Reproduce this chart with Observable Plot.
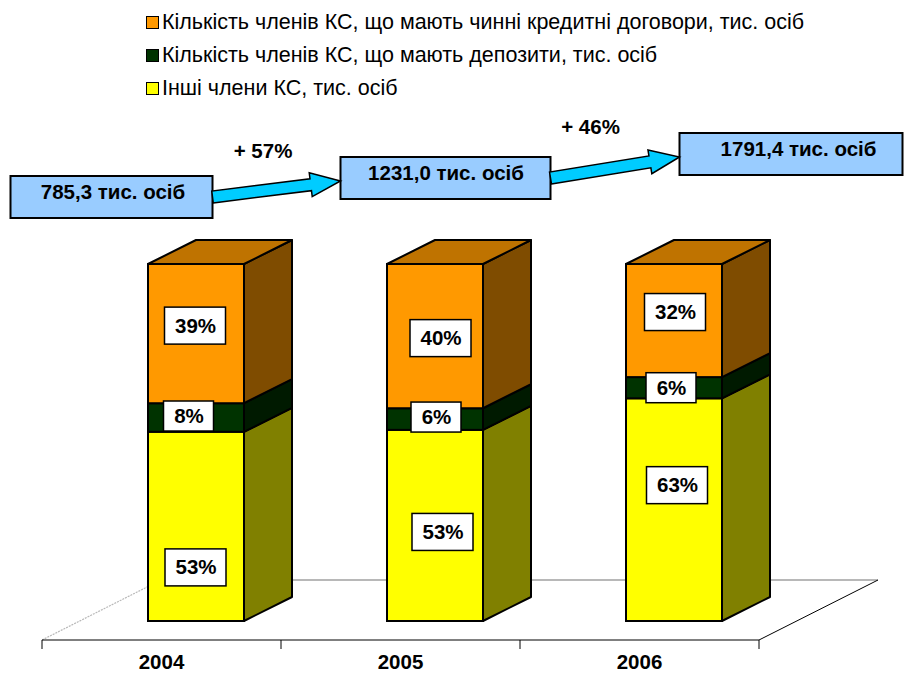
<!DOCTYPE html>
<html><head><meta charset="utf-8">
<script src="https://cdn.jsdelivr.net/npm/d3@7"></script>
<script src="https://cdn.jsdelivr.net/npm/@observablehq/plot@0.6"></script>
<style>
body{margin:0;background:#fff;font-family:"Liberation Sans",Arial,sans-serif;}
#legend{position:relative;height:108px;width:905px;}
.item{position:absolute;left:146px;height:22px;display:flex;align-items:center;font-size:21.5px;color:#000;white-space:nowrap;}
.sw{width:11px;height:11px;border:1.5px solid #000;margin-right:3px;flex:none;}
</style></head><body>
<div id="legend"></div><div id="chart"></div>
<script>
// ---- data ----
const years = ["2004", "2005", "2006"];
const seriesNames = [
  "Інші члени КС, тис. осіб",
  "Кількість членів КС, що мають депозити, тис. осіб",
  "Кількість членів КС, що мають чинні кредитні договори, тис. осіб"
];
const otherShare = [53, 53, 63];
const depositShare = [8, 6, 6];
const creditShare = [39, 40, 32];
const totalMembers = [785.3, 1231.0, 1791.4];
const growthLabels = ["+ 57%", "+ 46%"];
const unitLabel = "тис. осіб";
const legendOrder = [2, 1, 0];

// ---- styles / layout ----
const frontColors = ["#FFFF00", "#003300", "#FF9900"];
const sideColors = ["#808000", "#001A00", "#7F4C00"];
const topColor = "#BF7300";
const FRONT = [35, -19];     // bar front face offset from floor front edge
const DEPTH = [48, -24];     // bar depth
const FLOOR = [119, -60];    // floor depth
const labelNudge = [
  [-0.5, 41], [-7.5, -1.5], [-1, -8],
  [7.5, 6.5], [1, -2], [5.5, 2],
  [3, -24.5], [-3, 0], [1, -8.5]
];
const boxLayout = [
  {dx: -49.5, rise: -88, w: 202, tdx: 1},
  {dx: 45.5, rise: -107, w: 210, tdx: 0},
  {dx: 152, rise: -131, w: 223, tdx: 7}
];
const BOX_H = 42;
const growthNudge = [[-14, -38], [-25, -41]];
const FONT = "'Liberation Sans', Arial, sans-serif";
const FS = 20.5;

// ---- legend ----
const legend = document.getElementById("legend");
legendOrder.forEach((s, k) => {
  const it = document.createElement("div");
  it.className = "item";
  it.style.top = (11 + k * 33) + "px";
  it.innerHTML = `<span class="sw" style="background:${frontColors[s]}"></span><span>${seriesNames[s]}</span>`;
  legend.appendChild(it);
});

// ---- tables ----
const rows = years.flatMap((year, i) =>
  [otherShare, depositShare, creditShare].map((arr, s) => ({year, s, series: seriesNames[s], value: arr[i]})));
const totalRows = years.map((year, i) => ({year, i, total: totalMembers[i]}));
const growthRows = growthLabels.map((label, i) => ({from: years[i], to: years[i + 1], i, label}));
const fmt = v => d3.format(".1f")(v).replace(".", ",");

const mctx = document.createElement("canvas").getContext("2d");
function textWidth(t, font) { mctx.font = font; return mctx.measureText(t).width; }
const poly = pts => "M" + pts.map(p => p.join(",")).join("L") + "Z";

function boxGeom(scales, i) {
  const bw = scales.x.bandwidth();
  const L = boxLayout[i];
  const cx = scales.x(years[i]) + bw / 2 + L.dx;
  const top = scales.y(1) + FRONT[1] + L.rise;
  return {cx, top, w: L.w, cy: top + BOX_H / 2, tx: cx + L.tdx};
}

const stackOpts = {x: "year", y: "value", z: "series", offset: "normalize"};

const chart = Plot.plot({
  width: 905, height: 567, margin: 0,
  x: {domain: years, range: [42, 759], paddingInner: 0.598, paddingOuter: 0.299, axis: null},
  y: {domain: [0, 1], range: [532, 175], axis: null},
  color: {domain: seriesNames, range: frontColors},
  style: {fontFamily: FONT, overflow: "visible", background: "#fff"},
  marks: [
    // floor
    Plot.ruleY([0], {render(index, scales) {
      const [x0, x1] = scales.x.range();
      const y0 = scales.y(0);
      const g = d3.create("svg:g");
      g.append("path").attr("d", poly([[x0, y0], [x1, y0], [x1 + FLOOR[0], y0 + FLOOR[1]], [x0 + FLOOR[0], y0 + FLOOR[1]]])).attr("fill", "#fff");
      g.append("line").attr("x1", x0 + FLOOR[0]).attr("x2", x1 + FLOOR[0]).attr("y1", y0 + FLOOR[1]).attr("y2", y0 + FLOOR[1]).attr("stroke", "#b8b8b8").attr("stroke-width", 2);
      g.append("line").attr("x1", x0).attr("y1", y0).attr("x2", x0 + FLOOR[0]).attr("y2", y0 + FLOOR[1]).attr("stroke", "#b8b8b8").attr("stroke-width", 1.2).attr("stroke-dasharray", "2,1");
      g.append("line").attr("x1", x1).attr("y1", y0).attr("x2", x1 + FLOOR[0]).attr("y2", y0 + FLOOR[1]).attr("stroke", "#000").attr("stroke-width", 1);
      g.append("line").attr("x1", x0).attr("y1", y0).attr("x2", x1).attr("y2", y0).attr("stroke", "#000").attr("stroke-width", 1);
      const n = scales.x.domain().length;
      for (let k = 0; k <= n; k++) {
        const x = x0 + k * (x1 - x0) / n;
        g.append("line").attr("x1", x).attr("x2", x).attr("y1", y0).attr("y2", y0 + 9).attr("stroke", "#000").attr("stroke-width", 1);
      }
      return g.node();
    }}),
    // front faces
    Plot.barY(rows, Plot.stackY({...stackOpts, fill: "series", stroke: "#000", strokeWidth: 2, dx: FRONT[0], dy: FRONT[1]})),
    // side + top faces
    Plot.barY(rows, Plot.stackY({...stackOpts, render(index, scales, values) {
      const bw = scales.x.bandwidth();
      const g = d3.create("svg:g").attr("stroke", "#000").attr("stroke-width", 2).attr("stroke-linejoin", "round");
      for (const i of index) {
        const r = rows[i];
        const xl = values.x[i] + FRONT[0];
        const xr = xl + bw;
        const ya = values.y1[i] + FRONT[1], yb = values.y2[i] + FRONT[1];
        g.append("path").attr("fill", sideColors[r.s])
          .attr("d", poly([[xr, ya], [xr + DEPTH[0], ya + DEPTH[1]], [xr + DEPTH[0], yb + DEPTH[1]], [xr, yb]]));
        if (r.s === seriesNames.length - 1) {
          const yt = Math.min(ya, yb);
          g.append("path").attr("fill", topColor)
            .attr("d", poly([[xl, yt], [xr, yt], [xr + DEPTH[0], yt + DEPTH[1]], [xl + DEPTH[0], yt + DEPTH[1]]]));
        }
      }
      return g.node();
    }})),
    // percentage labels in white boxes
    Plot.text(rows, Plot.stackY({...stackOpts, text: d => d.value + "%", fontSize: FS, fontWeight: "bold", fill: "#000",
      render(index, scales, values, dims, ctx, next) {
        const bw = scales.x.bandwidth();
        const X = new Array(rows.length), Y = new Array(rows.length);
        const wrap = d3.create("svg:g");
        for (const i of index) {
          const cx = scales.x(rows[i].year) + bw / 2 + FRONT[0] + labelNudge[i][0];
          const cy = values.y[i] + FRONT[1] + labelNudge[i][1];
          X[i] = cx - bw / 2; Y[i] = cy;
          const w = Math.round(textWidth(rows[i].value + "%", `bold ${FS}px ${FONT}`)) + 20;
          const h = rows[i].value < 10 ? 30 : 37;
          wrap.append("rect").attr("x", cx - w / 2).attr("y", cy - h / 2).attr("width", w).attr("height", h)
            .attr("fill", "#fff").attr("stroke", "#000").attr("stroke-width", 1.5);
        }
        wrap.append(() => next(index, scales, {...values, x: X, y: Y}, dims, ctx));
        return wrap.node();
      }})),
    // year labels
    Plot.text(years, {x: d => d, y: 0, dy: 22, fontSize: FS, fontWeight: "bold", fill: "#000"}),
    // total value boxes
    Plot.text(totalRows, {x: "year", text: d => fmt(d.total) + " " + unitLabel, fontSize: FS, fontWeight: "bold", fill: "#000",
      render(index, scales, values, dims, ctx, next) {
        const bw = scales.x.bandwidth();
        const X = new Array(totalRows.length), Y = new Array(totalRows.length);
        const wrap = d3.create("svg:g");
        for (const i of index) {
          const b = boxGeom(scales, i);
          X[i] = b.tx - bw / 2; Y[i] = b.top + 16;
          wrap.append("rect").attr("x", b.cx - b.w / 2).attr("y", b.top).attr("width", b.w).attr("height", BOX_H)
            .attr("fill", "#99CCFF").attr("stroke", "#000").attr("stroke-width", 2);
        }
        wrap.append(() => next(index, scales, {...values, x: X, y: Y}, dims, ctx));
        return wrap.node();
      }}),
    // growth arrows and labels
    Plot.text(growthRows, {x: "from", text: "label", fontSize: FS, fontWeight: "bold", fill: "#000",
      render(index, scales, values, dims, ctx, next) {
        const bw = scales.x.bandwidth();
        const X = new Array(growthRows.length), Y = new Array(growthRows.length);
        const wrap = d3.create("svg:g");
        for (const i of index) {
          const a = boxGeom(scales, i), b = boxGeom(scales, i + 1);
          const sx = a.cx + a.w / 2, sy = a.cy, tx = b.cx - b.w / 2, ty = b.cy + 3;
          const len = Math.hypot(tx - sx, ty - sy);
          const ux = (tx - sx) / len, uy = (ty - sy) / len, nx = -uy, ny = ux;
          const hl = 30, sw = 6, hw = 12;
          const bx = tx - ux * hl, by = ty - uy * hl;
          wrap.append("path").attr("fill", "#00CCFF").attr("stroke", "#000").attr("stroke-width", 1.5).attr("stroke-linejoin", "miter")
            .attr("d", poly([
              [sx + nx * sw, sy + ny * sw], [bx + nx * sw, by + ny * sw], [bx + nx * hw, by + ny * hw], [tx, ty],
              [bx - nx * hw, by - ny * hw], [bx - nx * sw, by - ny * sw], [sx - nx * sw, sy - ny * sw]]));
          X[i] = (sx + tx) / 2 + growthNudge[i][0] - bw / 2;
          Y[i] = (sy + ty) / 2 + growthNudge[i][1];
        }
        wrap.append(() => next(index, scales, {...values, x: X, y: Y}, dims, ctx));
        return wrap.node();
      }})
  ]
});
document.getElementById("chart").appendChild(chart);
</script>
</body></html>
